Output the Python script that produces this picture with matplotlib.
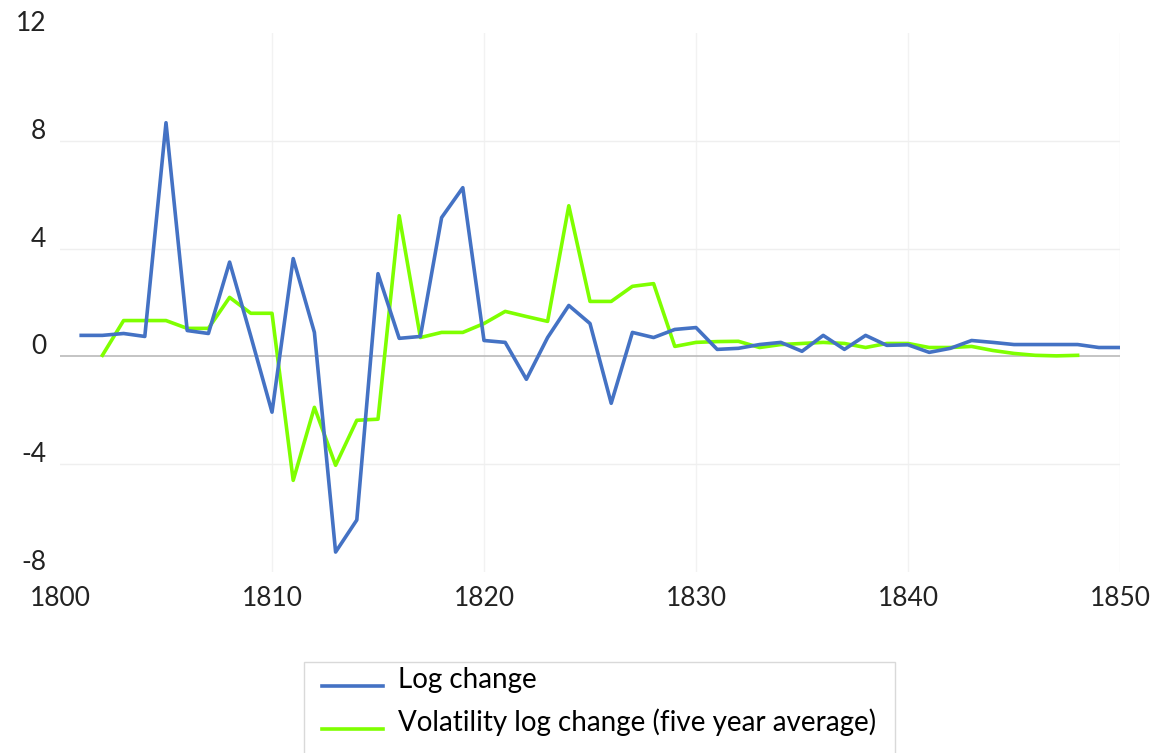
import matplotlib
matplotlib.use("Agg")
import matplotlib.pyplot as plt
import matplotlib.transforms as mtransforms
from matplotlib.patches import Rectangle

plt.rcParams['font.family'] = ['Lato', 'DejaVu Sans']
plt.rcParams['axes.unicode_minus'] = False

years_log = list(range(1801, 1851))
log_change = [0.78, 0.78, 0.85, 0.74, 8.67, 0.96, 0.85, 3.5, 0.75, -2.07,
              3.63, 0.89, -7.26, -6.07, 3.07, 0.67, 0.74, 5.15, 6.26, 0.59,
              0.52, -0.85, 0.7, 1.89, 1.22, -1.74, 0.89, 0.70, 1.0, 1.07,
              0.26, 0.3, 0.44, 0.52, 0.19, 0.78, 0.26, 0.78, 0.41, 0.43,
              0.15, 0.3, 0.59, 0.52, 0.44, 0.44, 0.44, 0.44, 0.33, 0.33]

years_vol = list(range(1802, 1849))
volatility = [0.04, 1.33, 1.33, 1.33, 1.04, 1.04, 2.19, 1.6, 1.6, -4.6,
              -1.89, -4.04, -2.37, -2.33, 5.22, 0.7, 0.89, 0.89, 1.22, 1.67,
              1.48, 1.3, 5.59, 2.04, 2.04, 2.6, 2.7, 0.37, 0.52, 0.55,
              0.56, 0.33, 0.44, 0.48, 0.52, 0.48, 0.33, 0.48, 0.48, 0.33,
              0.33, 0.37, 0.22, 0.11, 0.04, 0.02, 0.04]

x_ticks = [1800, 1810, 1820, 1830, 1840, 1850]
y_ticks = [-8, -4, 0, 4, 8, 12]
series_labels = ["Log change", "Volatility log change (five year average)"]

W, H = 1157, 753
fig = plt.figure(figsize=(W / 100, H / 100), dpi=100)
ax = fig.add_axes([60 / W, 1 - 572 / H, (1120 - 60) / W, (572 - 33) / H])

ax.set_xlim(1800, 1850)
ax.set_ylim(-8, 12)

for x in x_ticks[1:]:
    ax.axvline(x, color='#F2F2F2', lw=1.0, zorder=0)
for y in [-4, 4, 8]:
    ax.axhline(y, color='#EFEFEF', lw=1.0, zorder=0)
ax.axhline(0, color='#BFBFBF', lw=1.3, zorder=1)

ax.plot(years_log, log_change, color='#4472C4', lw=2.6, label=series_labels[0], zorder=3)
ax.plot(years_vol, volatility, color='#7FFF00', lw=2.6, label=series_labels[1], zorder=2)

for s in ax.spines.values():
    s.set_visible(False)
ax.set_xticks(x_ticks)
ax.set_yticks(y_ticks)
ax.tick_params(length=0, labelsize=19, colors='#222222')
ax.tick_params(axis='y', pad=10)
ax.tick_params(axis='x', pad=10)
offset = mtransforms.ScaledTranslation(0, 12 / 100, fig.dpi_scale_trans)
for lab in ax.get_yticklabels():
    lab.set_transform(lab.get_transform() + offset)

# legend frame
fig.patches.append(Rectangle((304 / W, -0.01), (895 - 304) / W, 0.01 + (753 - 662) / H,
                             transform=fig.transFigure, facecolor='white',
                             edgecolor='#D9D9D9', lw=1.0, zorder=0))

leg = fig.legend(loc='upper left', bbox_to_anchor=(322 / W, 1 - 667 / H),
                 borderaxespad=0, borderpad=0, fontsize=20, frameon=False,
                 handlelength=2.2, handletextpad=0.54, labelspacing=0.56)
hoff = mtransforms.ScaledTranslation(0, -8 / 100, fig.dpi_scale_trans)
for h in leg.legend_handles:
    h.set_transform(h.get_transform() + hoff)

fig.savefig('out.png', dpi=100)
